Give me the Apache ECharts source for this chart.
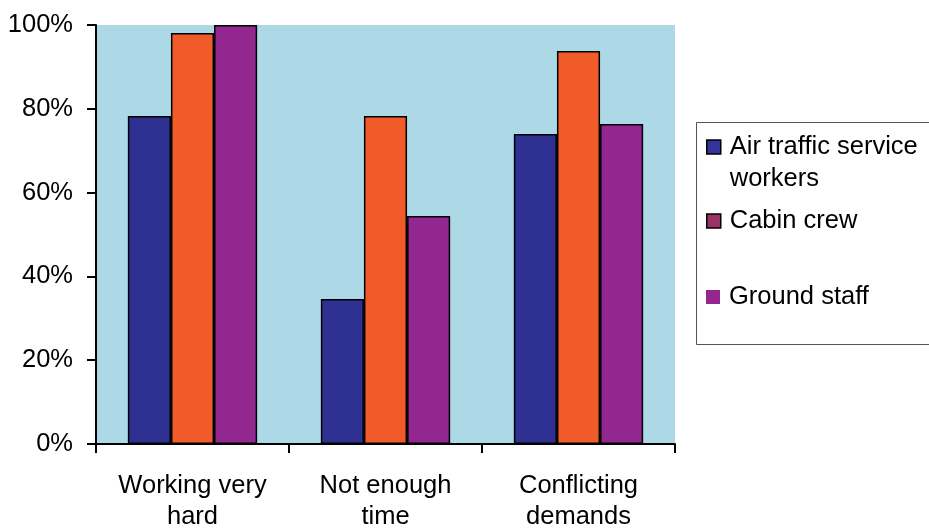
<!DOCTYPE html>
<html>
<head>
<meta charset="utf-8">
<script src="https://cdn.jsdelivr.net/npm/echarts@6/dist/echarts.min.js"></script>
<style>
  html, body { margin: 0; padding: 0; background: #ffffff; }
  #chart { width: 929px; height: 529px; }
</style>
</head>
<body>
<div id="chart"></div>
<script>
// Share of workers reporting each demand, by occupation group (percent)
const categories = ['Working very\nhard', 'Not enough\ntime', 'Conflicting\ndemands'];
const airTraffic = [78.3, 34.6, 74.0];
const cabinCrew = [98.1, 78.3, 93.8];
const groundStaff = [100, 54.4, 76.4];
const yTicks = { min: 0, max: 100, step: 20 };

const FONT = '"Liberation Sans", Arial, sans-serif';
const FS = 25.5;
const chart = echarts.init(document.getElementById('chart'), null, { renderer: 'canvas' });

const barBorder = { borderColor: '#000000', borderWidth: 1.5 };

// One legend block per entry so each row sits at its own height.
// A blank leading line keeps the swatch level with the first text line.
function legendAt(top, name, icon, leadBlank) {
  return {
    show: true,
    orient: 'vertical',
    left: 706,
    top: top,
    padding: 0,
    itemWidth: 14,
    itemHeight: 14,
    itemGap: 0,
    selectedMode: false,
    data: [{ name: name, icon: 'rect', itemStyle: icon }],
    formatter: function (n) {
      const lines = n.split('\n').map(function (s) { return '{t|' + s + '}'; });
      if (leadBlank) lines.unshift('{t| }');
      return lines.join('\n');
    },
    textStyle: {
      fontFamily: FONT, fontSize: FS, color: '#000000', lineHeight: 32,
      rich: { t: { fontFamily: FONT, fontSize: FS, color: '#000000', lineHeight: 32, padding: [0, 0, 0, 4] } }
    }
  };
}

chart.setOption({
  animation: false,
  backgroundColor: '#ffffff',
  grid: {
    left: 96, right: 254, top: 25, bottom: 85,
    outerBoundsMode: 'none',
    show: true, backgroundColor: '#add8e6', borderWidth: 0
  },
  xAxis: {
    type: 'category',
    data: categories,
    axisLine: { lineStyle: { color: '#000000', width: 2 } },
    axisTick: { show: true, length: 9, lineStyle: { color: '#000000', width: 2 } },
    axisLabel: { fontFamily: FONT, fontSize: FS, color: '#000000', lineHeight: 31, margin: 26 }
  },
  yAxis: {
    type: 'value',
    min: yTicks.min, max: yTicks.max, interval: yTicks.step,
    splitLine: { show: false },
    axisLine: { show: true, lineStyle: { color: '#000000', width: 2 } },
    axisTick: { show: true, length: 9, lineStyle: { color: '#000000', width: 2 } },
    axisLabel: { formatter: '{value}%', fontFamily: FONT, fontSize: FS, color: '#000000', margin: 23 }
  },
  legend: [
    legendAt(99, 'Air traffic service\nworkers',
      { color: '#333399', borderColor: '#000000', borderWidth: 1.5 }, true),
    legendAt(205, 'Cabin crew',
      { color: '#993366', borderColor: '#000000', borderWidth: 1.5 }),
    legendAt(281, 'Ground staff',
      { color: '#93278f', borderWidth: 0 })
  ],
  graphic: [{
    type: 'rect',
    shape: { x: 696.5, y: 122.5, width: 250, height: 222 },
    style: { fill: 'none', stroke: '#555555', lineWidth: 1 },
    silent: true
  }],
  series: [
    { name: 'Air traffic service\nworkers', type: 'bar', data: airTraffic,
      barGap: '0%', barCategoryGap: '33%',
      itemStyle: Object.assign({ color: '#2e3192' }, barBorder) },
    { name: 'Cabin crew', type: 'bar', data: cabinCrew,
      itemStyle: Object.assign({ color: '#f15a29' }, barBorder) },
    { name: 'Ground staff', type: 'bar', data: groundStaff,
      itemStyle: Object.assign({ color: '#92278f' }, barBorder) }
  ]
});
</script>
</body>
</html>
